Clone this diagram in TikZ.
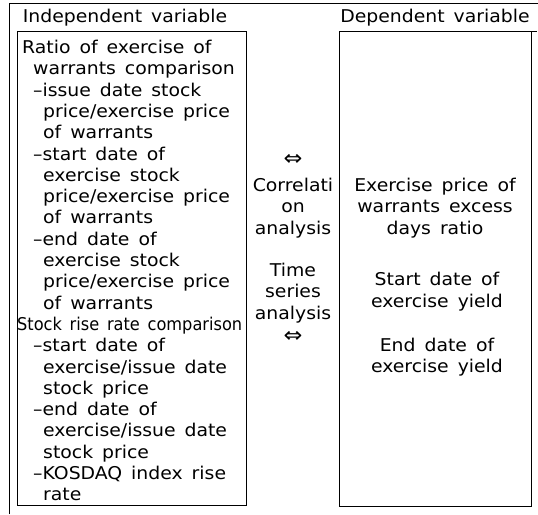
\documentclass[tikz,border=0pt]{standalone}
\usepackage{fontspec}
\setmainfont{DejaVu Sans}[FakeStretch=1.07,WordSpace=1.5]
\usetikzlibrary{positioning}
\begin{document}
\begin{tikzpicture}[x=1pt,y=-1pt,
  txt/.style={font=\fontsize{17.6}{21.3}\selectfont, inner sep=0pt},
  dbl/.style={font=\fontsize{21}{21.3}\selectfont, inner sep=0pt},
  varbox/.style={draw, line width=0.9pt},
  frame/.style={line width=0.9pt}]
\useasboundingbox (0,0) rectangle (538,514);
% outer frame (top and left edges)
\coordinate (ftl) at (9,3);
\coordinate (ftr) at (538,3);
\coordinate (fbl) at (9,514);
\draw[frame] (fbl) -- (ftl) -- (ftr);

% column headings
\node[txt] (indep) at (125,18) {Independent variable};
\node[txt] (dep) at (435,18) {Dependent variable};

% variable boxes
\draw[varbox] (17,31) rectangle (246,505);
\draw[varbox] (339,31) rectangle (531,506);
\coordinate (ulA) at (339,31);
\coordinate (ulB) at (537,31);
\draw[frame] (ulA) -- (ulB);

% independent variables
\node[txt, align=left, anchor=north west] (indlist) at (22,40) {%
Ratio of exercise of\\
\hspace{11pt}warrants comparison\\
\hspace{11pt}–issue date stock\\
\hspace{21pt}price/exercise price\\
\hspace{21pt}of warrants\\
\hspace{11pt}–start date of\\
\hspace{21pt}exercise stock\\
\hspace{21pt}price/exercise price\\
\hspace{21pt}of warrants\\
\hspace{11pt}–end date of\\
\hspace{21pt}exercise stock\\
\hspace{21pt}price/exercise price\\
\hspace{21pt}of warrants\\
\hspace{-5pt}\scalebox{0.86}[1]{Stock rise rate comparison}\\
\hspace{11pt}–start date of\\
\hspace{21pt}exercise/issue date\\
\hspace{21pt}stock price\\
\hspace{11pt}–end date of\\
\hspace{21pt}exercise/issue date\\
\hspace{21pt}stock price\\
\hspace{11pt}–KOSDAQ index rise\\
\hspace{21pt}rate};

% analysis methods
\node[dbl] (arrA) at (293,160) {⇔};
\node[txt, align=center] (corr) at (293,208) {Correlati\\on\\analysis};
\node[txt, align=center] (tser) at (293,293) {Time\\series\\analysis};
\node[dbl] (arrB) at (293,337) {⇔};

% dependent variables
\node[txt, align=center] (excess) at (435,208) {Exercise price of\\warrants excess\\days ratio};
\node[txt, align=center] (startY) at (437,291.5) {Start date of\\exercise yield};
\node[txt, align=center] (endY) at (437,357) {End date of\\exercise yield};
\end{tikzpicture}
\end{document}
